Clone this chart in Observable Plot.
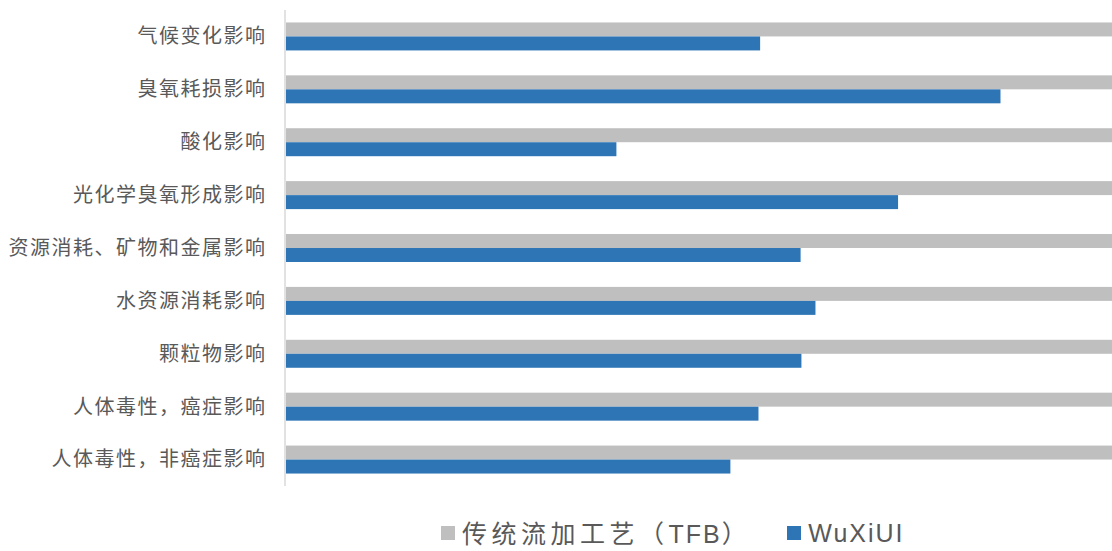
<!DOCTYPE html>
<html>
<head>
<meta charset="utf-8">
<script src="https://cdn.jsdelivr.net/npm/d3@7"></script>
<script src="https://cdn.jsdelivr.net/npm/@observablehq/plot@0.6"></script>
<style>
  html, body { margin: 0; padding: 0; background: #fff; }
  #wrap { position: relative; width: 1112px; height: 551px; overflow: hidden; }
  #chart svg text { letter-spacing: 1.5px; }
  #legend { position: absolute; left: 441px; top: 517px; display: flex; align-items: center;
    font-family: "Noto Sans CJK SC", "Liberation Sans", sans-serif; font-size: 25px; color: #595959;
    white-space: nowrap; line-height: 30px; }
  .zh { letter-spacing: 4.5px; }
  .sw { display: inline-block; width: 14px; height: 14px; margin-right: 7px; }
  .lat { font-family: "Liberation Sans", Arial, sans-serif; letter-spacing: 2px; }
</style>
</head>
<body>
<div id="wrap">
  <div id="chart"></div>
  <div id="legend">
    <span class="sw" style="background:#bfbfbf"></span><span class="zh">传统流加工艺（<span class="lat">TFB</span>）</span>
    <span class="sw" style="background:#2e75b6;margin-left:36px"></span><span class="lat">WuXiUI</span>
  </div>
</div>
<script>
const categories = [
  "气候变化影响",
  "臭氧耗损影响",
  "酸化影响",
  "光化学臭氧形成影响",
  "资源消耗、矿物和金属影响",
  "水资源消耗影响",
  "颗粒物影响",
  "人体毒性，癌症影响",
  "人体毒性，非癌症影响"
];
const tfbValues = [1, 1, 1, 1, 1, 1, 1, 1, 1];
const wuxiValues = [0.574, 0.865, 0.400, 0.741, 0.623, 0.641, 0.624, 0.572, 0.538];
const seriesNames = ["传统流加工艺（TFB）", "WuXiUI"];

const rows = categories.map((c, i) => ({cat: c, tfb: tfbValues[i], wuxi: wuxiValues[i]}));

const chart = Plot.plot({
  width: 1112,
  height: 500,
  marginLeft: 286,
  marginRight: 0,
  marginTop: 10,
  marginBottom: 14,
  style: {fontFamily: "'Noto Sans CJK SC', sans-serif", fontSize: "20px", color: "#595959", background: "#fff"},
  x: {domain: [0, 1], axis: null},
  y: {domain: categories, paddingInner: 0.471, paddingOuter: 0.2355, round: false, label: null},
  marks: [
    Plot.barX(rows, {x: "tfb", y: "cat", fill: "#bfbfbf", insetBottom: 14, title: d => seriesNames[0]}),
    Plot.barX(rows, {x: "wuxi", y: "cat", fill: "#2e75b6", insetTop: 14, title: d => seriesNames[1]}),
    Plot.ruleX([0], {stroke: "#d9d9d9", strokeWidth: 1.5, dx: -1.5}),
    Plot.axisY({tickSize: 0, tickPadding: 20, fontSize: 20, fill: "#595959", label: null})
  ]
});
document.getElementById("chart").appendChild(chart);
</script>
</body>
</html>
